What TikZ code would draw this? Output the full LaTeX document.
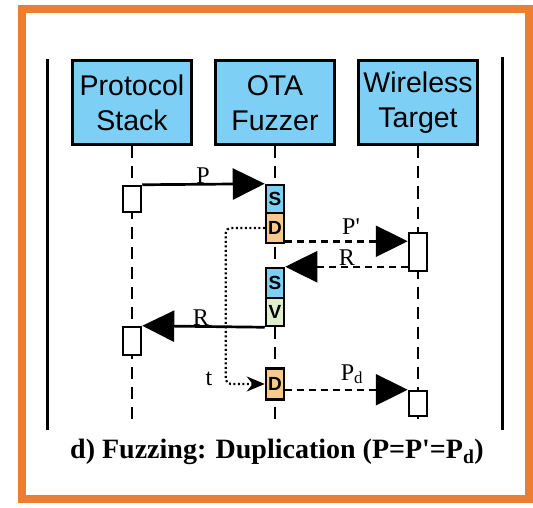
\documentclass[tikz,border=0pt]{standalone}
\usepackage{fontspec}
\setmainfont{Liberation Serif}
\newfontfamily\lsans{Liberation Sans}
\usetikzlibrary{arrows.meta,calc}
\definecolor{frameorange}{RGB}{237,125,49}
\definecolor{boxblue}{RGB}{125,207,245}
\definecolor{dorange}{RGB}{248,200,140}
\definecolor{vgreen}{RGB}{223,239,206}
\begin{document}
\begin{tikzpicture}[x=1pt,y=-1pt,
 actor/.style={draw, line width=3pt, fill=boxblue, minimum width=119pt, minimum height=84pt, inner sep=0pt, align=center, font=\lsans\fontsize{28.5}{35}\selectfont},
 act/.style={draw, line width=2.5pt, fill=white, minimum width=18pt, inner sep=0pt},
 tag/.style={draw, line width=2.5pt, minimum width=18pt, inner sep=0pt, font=\lsans\bfseries\fontsize{19}{19}\selectfont},
 life/.style={line width=2pt, dash pattern=on 12pt off 8pt},
 solidarrow/.style={line width=2.7pt, -{Triangle[length=32pt,width=31pt]}},
 dasharrow/.style={line width=2.5pt, dash pattern=on 7pt off 5pt, -{Triangle[length=32pt,width=31pt]}},
 dotarrow/.style={line width=2.2pt, dash pattern=on 2pt off 2.5pt, rounded corners=5pt, -{Stealth[length=18pt,width=15pt]}},
 lbl/.style={anchor=base, inner sep=0pt, font=\fontsize{24}{24}\selectfont},
]
\useasboundingbox (0,0) rectangle (533,508);
% frame
\draw[frameorange, line width=8pt] (22,9) rectangle (529,499);
% side bars
\coordinate (bl1) at (47,59);
\coordinate (bl2) at (47,430);
\coordinate (br1) at (502,57);
\coordinate (br2) at (502,430);
\draw[line width=3pt] (bl1) -- (bl2);
\draw[line width=3pt] (br1) -- (br2);
% actors
\node[actor] (ps) at (132,103) {Protocol\\Stack};
\node[actor] (ota) at (275,103) {OTA\\Fuzzer};
\node[actor] (wt) at (418,103) {Wireless\\Target};
% lifelines
\coordinate (l1) at (132,424);
\coordinate (l2) at (275,424);
\coordinate (l3) at (418,424);
\draw[life] (ps.south) -- (l1);
\draw[life] (ota.south) -- (l2);
\draw[life] (wt.south) -- (l3);
% activations
\node[act, minimum height=26pt] (pa1) at (132,199) {};
\node[act, minimum height=28pt] (pa2) at (132,341) {};
\node[act, minimum height=38pt] (ta1) at (418,252) {};
\node[act, minimum height=25pt] (ta2) at (418,403.5) {};
% fuzzer tags
\node[tag, fill=boxblue, minimum height=28pt] (s1) at (275,199) {S};
\node[tag, fill=dorange, minimum height=30pt] (d1) at (275,228) {D};
\node[tag, fill=boxblue, minimum height=30pt] (s2) at (275,283) {S};
\node[tag, fill=vgreen, minimum height=28pt] (v) at (275,312) {V};
\node[tag, fill=dorange, minimum height=31pt] (d3) at (275,384) {D};
% messages
\draw[solidarrow] (pa1.north east) -- (s1.north west);
\draw[dasharrow] ([yshift=3pt]d1.south east) -- ([yshift=3pt]d1.south east -| ta1.west);
\draw[dasharrow] (s2.north east -| ta1.west) -- (s2.north east);
\draw[solidarrow] (v.south west) -- (pa2.north east);
\draw[dasharrow] (d3.east |- ta2.north west) -- (ta2.north west);
\draw[dotarrow] (d1.west) -- ++(-39,0) |- (d3.west);
% labels
\node[lbl] (lp) at (203,183) {P};
\node[lbl] (lp1) at (351,234) {P\textquotesingle};
\node[lbl] (lr1) at (347,265) {R};
\node[lbl] (lr2) at (201,325) {R};
\node[lbl] (lt) at (209,385) {t};
\node[lbl] (lpd) at (352,380) {P\textsubscript{d}};
% caption
\node[anchor=base, inner sep=0pt, font=\bfseries\fontsize{28}{28}\selectfont] (cap) at (277,458) {d) Fuzzing: Duplication (P=P\textquotesingle=P\textsubscript{d})};
\end{tikzpicture}
\end{document}
